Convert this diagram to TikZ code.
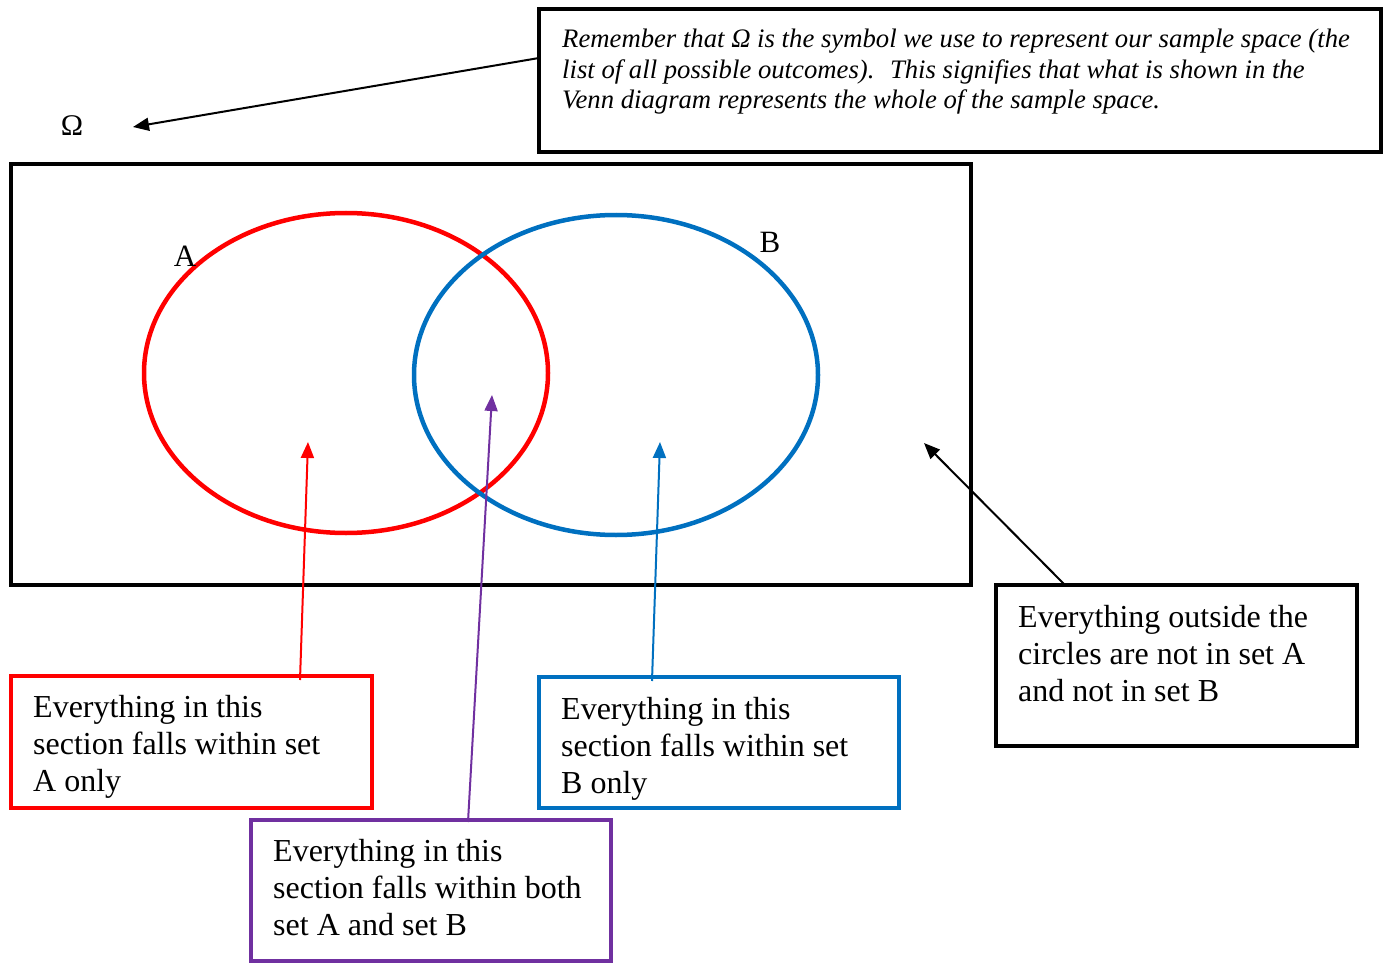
\documentclass[tikz,border=0pt]{standalone}
\usepackage{fontspec}
\setmainfont{Liberation Serif}
\usetikzlibrary{arrows.meta,calc,shapes.geometric}
\definecolor{vred}{HTML}{FF0000}
\definecolor{vblue}{HTML}{0070C0}
\definecolor{vpurple}{HTML}{7030A0}
\tikzset{
  frame/.style={draw, line width=4pt, inner sep=0pt, outer sep=0pt, anchor=north west},
  boxtext/.style={inner sep=0pt, anchor=north west, align=left, font=\fontsize{32}{37}\selectfont},
  notetext/.style={inner sep=0pt, anchor=north west, align=left, font=\fontsize{26.7}{30.5}\selectfont\itshape},
  setcircle/.style={ellipse, draw, line width=4.5pt, inner sep=0pt, outer sep=0pt, minimum width=404pt, minimum height=320pt},
  pointer/.style={line width=2pt, -{Triangle[length=16pt,width=13pt]}},
  lbl/.style={inner sep=0pt, font=\fontsize{31}{34}\selectfont}
}
\begin{document}
\begin{tikzpicture}[x=1pt,y=-1pt]
\useasboundingbox (0,0) rectangle (1385,963);
% note box
\node[frame, minimum width=842pt, minimum height=143pt] (note) at (539,9) {};
\node[notetext] (notetxt) at ($(note.north west)+(23,20)$) {Remember that \symbol{"03A9} is the symbol we use to represent our sample space (the\\ list of all possible outcomes).~ This signifies that what is shown in the\\ Venn diagram represents the whole of the sample space.};
% omega
\node[lbl, font=\fontsize{30}{32}\selectfont] (omega) at (72,126) {\symbol{"03A9}};
\coordinate (omegatip) at (133,127);
\draw[pointer] ($(note.north west)+(0,49)$) -- (omegatip);
% sample space
\node[frame, minimum width=960pt, minimum height=421pt] (space) at (11,164) {};
\node[setcircle, draw=vred] (setA) at (346,373) {};
\node[setcircle, draw=vblue] (setB) at (616,375) {};
\node[lbl] (labA) at (185,256) {A};
\node[lbl] (labB) at (770,242) {B};
% boxes
\node[frame, draw=vred, minimum width=361pt, minimum height=132pt] (redbox) at (11,676) {};
\node[boxtext] (redtxt) at ($(redbox.north west)+(22,19)$) {Everything in this\\ section falls within set\\ A only};
\node[frame, draw=vblue, minimum width=360pt, minimum height=131pt] (bluebox) at (539,677) {};
\node[boxtext] (bluetxt) at ($(bluebox.north west)+(22,20)$) {Everything in this\\ section falls within set\\ B only};
\node[frame, draw=vpurple, minimum width=360pt, minimum height=141pt] (purplebox) at (251,820) {};
\node[boxtext] (purpletxt) at ($(purplebox.north west)+(22,19)$) {Everything in this\\ section falls within both\\ set A and set B};
\node[frame, minimum width=361pt, minimum height=161pt] (blackbox) at (996,585) {};
\node[boxtext] (blacktxt) at ($(blackbox.north west)+(22,20)$) {Everything outside the\\ circles are not in set A\\ and not in set B};
% pointers
\coordinate (redtip) at (308,442);
\coordinate (purpletip) at (492,395);
\coordinate (bluetip) at (660,442);
\coordinate (outtip) at (924,443);
\draw[pointer, vred] ($(redbox.north west)+(289,4)$) -- (redtip);
\draw[pointer, vpurple] ($(purplebox.north west)+(217,2)$) -- (purpletip);
\draw[pointer, vblue] ($(bluebox.north west)+(113,4)$) -- (bluetip);
\draw[pointer] ($(blackbox.north west)+(69,0)$) -- (outtip);
\end{tikzpicture}
\end{document}
